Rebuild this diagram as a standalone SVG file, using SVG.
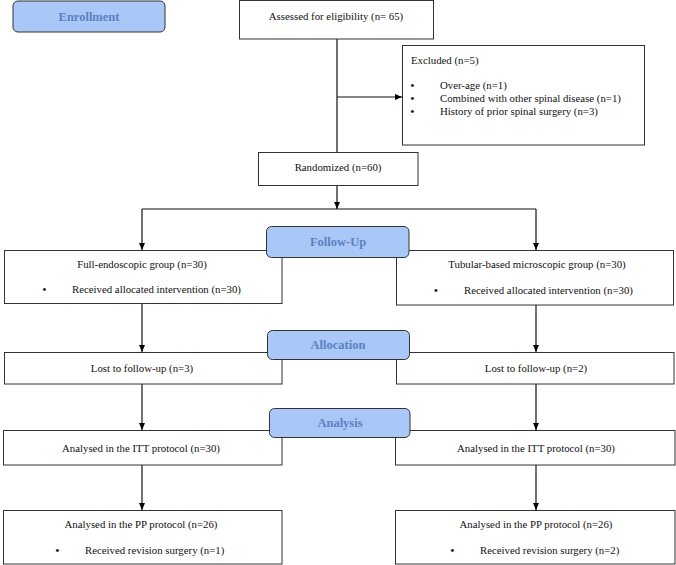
<svg xmlns="http://www.w3.org/2000/svg" width="676" height="565" viewBox="0 0 676 565">
<defs>
<marker id="ah" markerWidth="8" markerHeight="8" refX="7" refY="4" orient="auto" markerUnits="userSpaceOnUse">
<path d="M0,1 L7,4 L0,7 Z" fill="#000"/>
</marker>
<style>
.box{fill:#fff;stroke:#333;stroke-width:1}
.hdr{fill:#a9c7f7;stroke:#333;stroke-width:1}
.t{font-family:"Liberation Serif","Times New Roman",serif;font-size:10.8px;fill:#111}
.b{font-weight:bold}
.h{font-family:"Liberation Serif","Times New Roman",serif;font-size:12.5px;font-weight:bold;fill:#5a82c0;text-anchor:middle}
.c{text-anchor:middle}
.ln{stroke:#111;stroke-width:1.2;fill:none}
.ar{stroke:#111;stroke-width:1.2;fill:none;marker-end:url(#ah)}
</style>
</defs>
<g id="connectors">
<line class="ln" x1="337" y1="39" x2="337" y2="152"/>
<line class="ar" x1="337" y1="97" x2="402" y2="97"/>
<line class="ar" x1="337" y1="186" x2="337" y2="209"/>
<polyline class="ln" points="142,209 536,209"/>
<line class="ar" x1="142" y1="209" x2="142" y2="250"/>
<line class="ar" x1="536" y1="209" x2="536" y2="250"/>
<line class="ar" x1="142" y1="303" x2="142" y2="352"/>
<line class="ar" x1="536" y1="305" x2="536" y2="352"/>
<line class="ar" x1="142" y1="384" x2="142" y2="430"/>
<line class="ar" x1="536" y1="384" x2="536" y2="430"/>
<line class="ar" x1="142" y1="465" x2="142" y2="510"/>
<line class="ar" x1="536" y1="465" x2="536" y2="510"/>
</g>
<g id="enrollment">
<rect class="hdr" x="13" y="1" width="152" height="31" rx="5"/>
<text class="h" x="89" y="21">Enrollment</text>
</g>
<g id="assessed">
<rect class="box" x="239.5" y="0.5" width="194" height="38.5"/>
<text class="t c" x="336" y="20">Assessed for eligibility (n= 65)</text>
</g>
<g id="excluded">
<rect class="box" x="402.5" y="45.5" width="242" height="99.5"/>
<text class="t" x="411" y="64">Excluded (n=5)</text>
<text class="t b" x="410.5" y="89">•</text>
<text class="t" x="440" y="89">Over-age (n=1)</text>
<text class="t b" x="410.5" y="102">•</text>
<text class="t" x="440" y="102">Combined with other spinal disease (n=1)</text>
<text class="t b" x="410.5" y="115">•</text>
<text class="t" x="440" y="115">History of prior spinal surgery (n=3)</text>
</g>
<g id="randomized">
<rect class="box" x="258.5" y="152.5" width="159.5" height="33"/>
<text class="t c" x="338" y="171">Randomized (n=60)</text>
</g>
<g id="full-endo">
<rect class="box" x="4.5" y="250.5" width="277.5" height="53"/>
<text class="t c" x="142" y="268">Full-endoscopic group (n=30)</text>
<text class="t b" x="42.5" y="293">•</text>
<text class="t" x="72" y="293">Received allocated intervention (n=30)</text>
</g>
<g id="tubular">
<rect class="box" x="396.5" y="250.5" width="277" height="54.5"/>
<text class="t c" x="537" y="268">Tubular-based microscopic group (n=30)</text>
<text class="t b" x="434" y="294">•</text>
<text class="t" x="464" y="294">Received allocated intervention (n=30)</text>
</g>
<g id="followup">
<rect class="hdr" x="266.5" y="226.5" width="142.5" height="31" rx="5"/>
<text class="h" x="338" y="246">Follow-Up</text>
</g>
<g id="lost-left">
<rect class="box" x="4.5" y="352.5" width="277.5" height="31.5"/>
<text class="t c" x="142" y="372">Lost to follow-up (n=3)</text>
</g>
<g id="lost-right">
<rect class="box" x="396.5" y="352.5" width="277.5" height="31.5"/>
<text class="t c" x="536" y="372">Lost to follow-up (n=2)</text>
</g>
<g id="allocation">
<rect class="hdr" x="267.5" y="330.5" width="142" height="29" rx="5"/>
<text class="h" x="338" y="349">Allocation</text>
</g>
<g id="itt-left">
<rect class="box" x="3.5" y="430.5" width="278.5" height="34.5"/>
<text class="t c" x="141" y="452">Analysed in the ITT protocol (n=30)</text>
</g>
<g id="itt-right">
<rect class="box" x="395.5" y="430.5" width="279.5" height="34.5"/>
<text class="t c" x="536" y="452">Analysed in the ITT protocol (n=30)</text>
</g>
<g id="analysis">
<rect class="hdr" x="269.5" y="408.5" width="140.5" height="29" rx="5"/>
<text class="h" x="340" y="427">Analysis</text>
</g>
<g id="pp-left">
<rect class="box" x="3.5" y="510.5" width="278.5" height="53.5"/>
<text class="t c" x="141" y="528">Analysed in the PP protocol (n=26)</text>
<text class="t b" x="55.5" y="554">•</text>
<text class="t" x="85" y="554">Received revision surgery (n=1)</text>
</g>
<g id="pp-right">
<rect class="box" x="395.5" y="510.5" width="279.5" height="53.5"/>
<text class="t c" x="536" y="528">Analysed in the PP protocol (n=26)</text>
<text class="t b" x="450.5" y="554">•</text>
<text class="t" x="480" y="554">Received revision surgery (n=2)</text>
</g>
</svg>
